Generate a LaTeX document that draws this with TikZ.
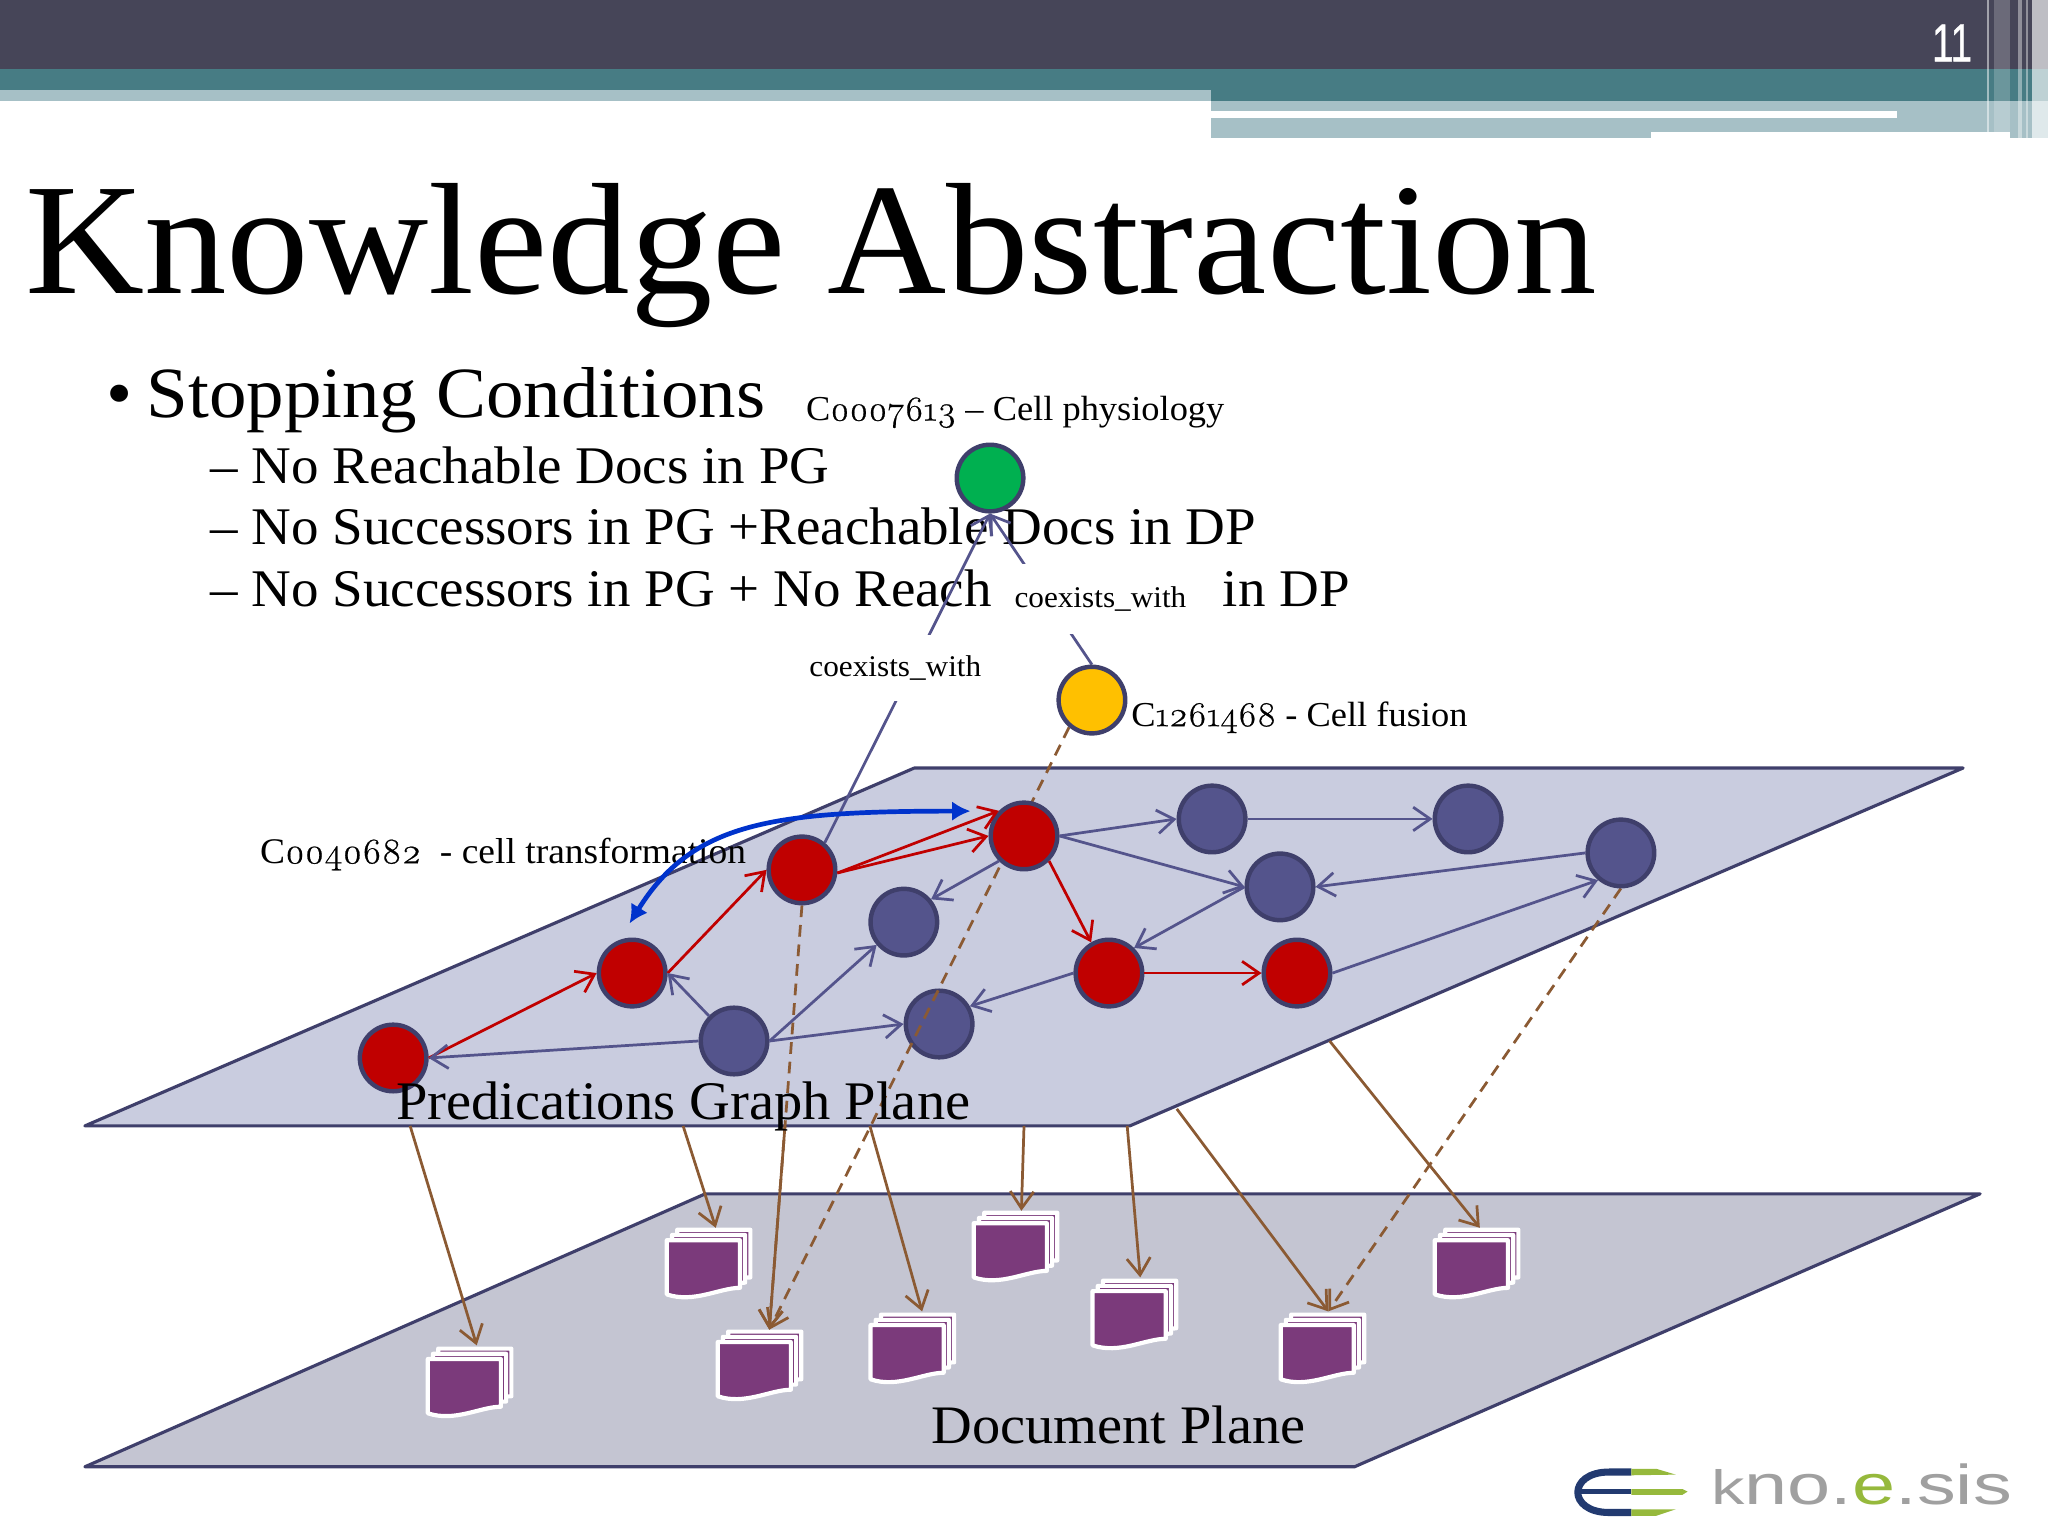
\documentclass[tikz,border=0pt]{standalone}
\usepackage{fontspec}
\setmainfont[FakeStretch=1.04]{Liberation Serif}
\newfontfamily\onum[Numbers=OldStyle,FakeStretch=1.04,FakeBold=0.6]{Latin Modern Roman}
\newfontfamily\pagefont[FakeStretch=0.72,FakeBold=0.8]{Liberation Sans}
\newfontfamily\logofont[FakeStretch=1.38]{Liberation Sans}
\usetikzlibrary{arrows.meta, positioning}
\definecolor{planeedge}{HTML}{3F3F6B}
\definecolor{nodeblue}{HTML}{54548C}
\definecolor{nodered}{HTML}{C00000}
\definecolor{linkbrown}{HTML}{8B5A33}
\definecolor{docpurple}{HTML}{7B3A7B}
\pgfdeclarelayer{plane}
\pgfdeclarelayer{edge}
\pgfdeclarelayer{front}
\pgfsetlayers{plane,edge,main,front}
\tikzset{>={Straight Barb[length=13pt,width=18pt]}}
\tikzset{
	txt/.style={anchor=base west, inner sep=0pt},
	vertex/.style={circle, draw=planeedge, line width=3.4pt, minimum size=51pt, inner sep=0pt},
	rednode/.style={vertex, fill=nodered},
	bluenode/.style={vertex, fill=nodeblue},
	redlink/.style={->, draw=nodered, line width=2.1pt},
	bluelink/.style={->, draw=nodeblue, line width=2.1pt},
	brownlink/.style={->, draw=linkbrown, line width=2.1pt},
	dashlink/.style={brownlink, dash pattern=on 9pt off 6pt},
	docpage/.style={fill=docpurple, draw=white, line width=3.2pt, line join=round},
	docstack/.pic={
		\foreach \off in {8,4,0}{
			\draw [docpage, shift={(\off,{-\off+8})}] (1.5,1.5)--(57.5,1.5)--(57.5,38)
				.. controls (42,38) and (22,50) .. (1.5,43) -- cycle;
		}
	},
}
\begin{document}
\begin{tikzpicture}[x=1pt,y=-1pt]
	\useasboundingbox (0,0) rectangle (1568,1176);
	\begin{pgfonlayer}{plane}
	% slide header
	\fill [white] (0,0) rectangle (1568,1176);
	\fill [color={rgb,255:red,70;green,69;blue,88}] (0,0) rectangle (1568,53);
	\fill [color={rgb,255:red,71;green,124;blue,132}] (0,53) rectangle (927,69);
	\fill [color={rgb,255:red,71;green,124;blue,132}] (927,53) rectangle (1568,77);
	\fill [color={rgb,255:red,166;green,192;blue,198}] (0,69) rectangle (927,77);
	\fill [color={rgb,255:red,166;green,192;blue,198}] (927,77) rectangle (1568,106);
	\fill [white] (927,85) rectangle (1452,90);
	\fill [white] (1264,101) rectangle (1539,106);
	\foreach \xa/\xb/\op in {1521/1522.5/.5, 1527/1539/.2, 1545/1548/.4, 1551/1553/.4, 1556/1568/.65}{
		\fill [white, opacity=\op] (\xa,0) rectangle (\xb,106);
	}
	\node [txt, text=white, font=\pagefont\fontsize{41}{41}\selectfont] (pagenum) at (1479,47) {11};
	% the two planes
	\filldraw [fill={rgb,255:red,201;green,204;blue,223}, draw=planeedge, line width=2.4pt, line join=round]
		(65,862)--(700,588)--(1503,588)--(865,862)--cycle;
	\filldraw [fill={rgb,255:red,196;green,197;blue,210}, draw=planeedge, line width=2.4pt, line join=round]
		(65,1123)--(540,914)--(1516,914)--(1037,1123)--cycle;
	% slide text
	\node [txt, font=\fontsize{121.5}{122}\selectfont] (title) at (19,225) {Knowledge Abstraction};
	\node [txt, font=\fontsize{55}{55}\selectfont] (bullet) at (81,320) {•};
	\node [txt, font=\fontsize{55.2}{56}\selectfont] (cond) at (112,320) {Stopping Conditions};
	\node [txt, font=\fontsize{40.5}{41}\selectfont] (cond1) at (161,370) {– No Reachable Docs in PG};
	\node [txt, font=\fontsize{40.5}{41}\selectfont] (cond2) at (161,417) {– No Successors in PG +Reachable Docs in DP};
	\node [txt, font=\fontsize{40.5}{41}\selectfont] (cond3) at (161,464) {– No Successors in PG + No Reach};
	\node [txt, font=\fontsize{40.5}{41}\selectfont] (cond4) at (936,464) {in DP};
	\node [txt, font=\fontsize{26.8}{27}\selectfont] (labgreen) at (617,322) {C{\onum 0007613} – Cell physiology};
	\node [txt, font=\fontsize{26.8}{27}\selectfont] (labyellow) at (866,556) {C{\onum 1261468} - Cell fusion};
	\node [txt, font=\fontsize{27.6}{28}\selectfont] (labred) at (199,661) {C{\onum 0040682}\ \ - cell transformation};
	\node [txt, font=\fontsize{41.5}{42}\selectfont] (docplane) at (713,1105) {Document Plane};
	% documents
	\pic at (326,1031) {docstack};
	\pic at (509,940) {docstack};
	\pic at (548,1018) {docstack};
	\pic at (665,1005) {docstack};
	\pic at (744,927) {docstack};
	\pic at (835,979) {docstack};
	\pic at (979,1005) {docstack};
	\pic at (1097,940) {docstack};
	\node [bluenode] (b3) at (719,784) {};
	% logo
	\draw [color={rgb,255:red,34;green,58;blue,112}, line width=5.4pt] (1249,1127)--(1232,1127)
		.. controls (1200,1127) and (1200,1158) .. (1232,1158)--(1249,1158);
	\draw [color={rgb,255:red,34;green,58;blue,112}, line width=4.4pt] (1210,1142)--(1249,1142);
	\fill [color={rgb,255:red,150;green,185;blue,60}] (1249,1124.5)--(1268,1124.5)--(1283,1129)--(1249,1129.5)--cycle;
	\fill [color={rgb,255:red,150;green,185;blue,60}] (1249,1140)--(1288,1140)--(1292,1142)--(1288,1144.5)--(1249,1144.5)--cycle;
	\fill [color={rgb,255:red,150;green,185;blue,60}] (1249,1155.5)--(1283,1155.5)--(1268,1160.5)--(1249,1160.5)--cycle;
	\node [txt, text={rgb,255:red,160;green,160;blue,160}, font=\logofont\fontsize{43}{43}\selectfont] (logo) at (1310,1152)
		{{\fontsize{37}{37}\selectfont k}no.{\color[RGB]{150,185,60}e}.sis};
	\end{pgfonlayer}

	\node [vertex, fill={rgb,255:red,0;green,176;blue,80}] (gr) at (758,366) {};
	\node [vertex, fill={rgb,255:red,255;green,192;blue,0}] (yel) at (836,536) {};
	\node [rednode] (r1) at (301,810) {};
	\node [rednode] (r2) at (484,745) {};
	\node [rednode] (r3) at (614,666) {};
	\node [rednode] (r4) at (784,640) {};
	\node [rednode] (r5) at (849,745) {};
	\node [rednode] (r6) at (993,745) {};
	\node [bluenode] (b1) at (562,797) {};
	\node [bluenode] (b2) at (692,706) {};
	\node [bluenode] (b4) at (928,627) {};
	\node [bluenode] (b5) at (1124,627) {};
	\node [bluenode] (b6) at (980,679) {};
	\node [bluenode] (b7) at (1241,653) {};

	\draw [redlink] (r1.east)--(r2.west); \draw [redlink] (r2.east)--(r3.west);
	\draw [redlink] (r3.-5)--(r4.135); \draw [redlink] (r3.-5)--(r4.180);
	\draw [redlink] (r4.-45)--(r5.120); \draw [redlink] (r5.east)--(r6.west);
	\draw [bluelink] (b1.west)--(r1.east); \draw [bluelink] (b1.135)--(r2.east);
	\draw [bluelink] (b1.east)--(b2.220); \draw [bluelink] (b1.east)--(b3.west);
	\draw [bluelink] (r5.west)--(b3.30); \draw [bluelink] (r4.225)--(b2.40);
	\draw [bluelink] (r4.east)--(b4.west); \draw [bluelink] (r4.east)--(b6.west);
	\draw [bluelink] (b6.west)--(r5.45); \draw [bluelink] (b7.west)--(b6.east);
	\draw [bluelink] (b4.east)--(b5.west); \draw [bluelink] (r6.east)--(b7.230);

	\coordinate (s1) at (314,862); \coordinate (t1) at (365,1030);
	\coordinate (s2) at (523,862); \coordinate (t2) at (548,940);
	\coordinate (s3) at (601,862); \coordinate (t3) at (589,1018);
	\coordinate (s4) at (666,862); \coordinate (t4) at (706,1004);
	\coordinate (s5) at (784,862); \coordinate (t5) at (782,927);
	\coordinate (s6) at (863,862); \coordinate (t6) at (873,978);
	\coordinate (s7) at (901,849); \coordinate (t7) at (1017,1004);
	\coordinate (s8) at (1018,797); \coordinate (t8) at (1133,940);

	\begin{pgfonlayer}{edge}
	\draw [bluelink] (r3.50)--(gr.south);
	\draw [bluelink] (yel.north)--(gr.south);
	\draw [dashlink] (r3.south)--(t3);
	\draw [dashlink] (yel.230)--(t3);
	\draw [dashlink] (b7.south)--(t7);
	\foreach \k in {1,...,8}{ \draw [brownlink] (s\k)--(t\k); }
	\end{pgfonlayer}

	\begin{pgfonlayer}{front}
	\node [fill=white, inner sep=0pt, minimum width=133pt, minimum height=50pt, font=\fontsize{23}{24}\selectfont] (lab1) at (685.5,511.5) {coexists\_with};
	\node [fill=white, inner sep=0pt, minimum width=133pt, minimum height=54pt, font=\fontsize{23}{24}\selectfont] (lab2) at (842.5,458.5) {coexists\_with};
	\node [txt, font=\fontsize{41.6}{42}\selectfont] (pgplane) at (303,857) {Predications Graph Plane};
	\coordinate (ba) at (482,707); \coordinate (bb) at (743,621);
	\draw [<->, >={Latex[length=14pt,width=15pt]}, color={rgb,255:red,0;green,51;blue,204}, line width=3.6pt]
		(ba) .. controls (530,630) and (590,621) .. (bb);
	\end{pgfonlayer}
\end{tikzpicture}
\end{document}
